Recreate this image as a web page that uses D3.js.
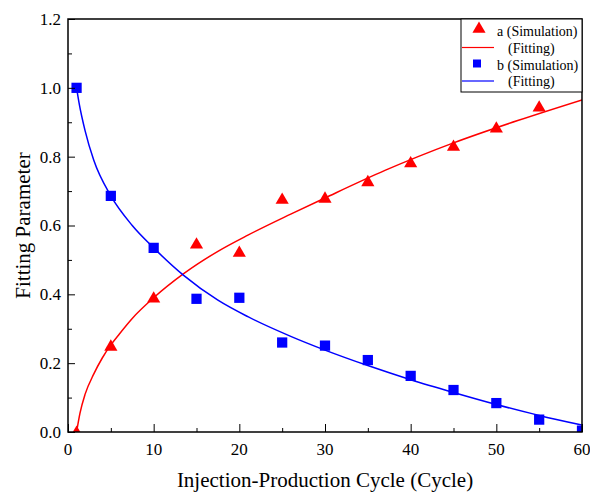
<!DOCTYPE html>
<html>
<head>
<meta charset="utf-8">
<script src="https://cdn.jsdelivr.net/npm/d3@7"></script>
<style>
  body { margin: 0; background: #fff; }
  svg text { font-family: "Liberation Serif", "Times New Roman", serif; fill: #000; }
</style>
</head>
<body>
<div id="chart"></div>
<script>
// simulation points
const cycles = [1, 5, 10, 15, 20, 25, 30, 35, 40, 45, 50, 55];
const aSim = [0.0, 0.25, 0.39, 0.547, 0.523, 0.677, 0.68, 0.728, 0.783, 0.831, 0.884, 0.945];
const bCycles = [1, 5, 10, 15, 20, 25, 30, 35, 40, 45, 50, 55, 60];
const bSim = [1.0, 0.686, 0.535, 0.387, 0.39, 0.26, 0.251, 0.209, 0.163, 0.122, 0.084, 0.036, 0.004];

// fitted curves
const aFitX = [1, 1.4, 2, 3, 4, 5, 6, 7.5, 10, 13.5, 17.5, 21, 26, 30, 37, 45, 52.5, 60];
const aFitY = [0, 0.055, 0.11, 0.168, 0.215, 0.253, 0.285, 0.33, 0.39, 0.46, 0.525, 0.572, 0.633, 0.68, 0.76, 0.84, 0.905, 0.965];
const bFitX = [1, 1.3, 2, 3, 5, 7.5, 10, 13.5, 17.5, 21, 26, 30, 35, 40, 45, 50, 55, 60];
const bFitY = [1.0, 0.955, 0.875, 0.79, 0.686, 0.6, 0.535, 0.455, 0.383, 0.335, 0.278, 0.238, 0.193, 0.152, 0.115, 0.08, 0.048, 0.02];

const xTicks = [0, 10, 20, 30, 40, 50, 60];
const yTicks = [0, 0.2, 0.4, 0.6, 0.8, 1.0, 1.2];

const margin = { top: 19, right: 8, bottom: 61, left: 68 };
const width = 590 - margin.left - margin.right;
const height = 493 - margin.top - margin.bottom;

const svg = d3.select("#chart")
  .append("svg")
  .attr("width", 590)
  .attr("height", 493)
  .append("g")
  .attr("transform", `translate(${margin.left},${margin.top})`);

const x = d3.scaleLinear().domain([0, 60]).range([0, width]);
const y = d3.scaleLinear().domain([0, 1.2]).range([height, 0]);

svg.append("defs").append("clipPath").attr("id", "clip")
  .append("rect").attr("width", width).attr("height", height);

const plot = svg.append("g").attr("clip-path", "url(#clip)");

const line = d3.line()
  .x(d => x(d[0]))
  .y(d => y(d[1]))
  .curve(d3.curveMonotoneX);

plot.append("path")
  .datum(aFitX.map((v, i) => [v, aFitY[i]]))
  .attr("fill", "none")
  .attr("stroke", "#ff0000")
  .attr("stroke-width", 1.5)
  .attr("d", line);

plot.append("path")
  .datum(bFitX.map((v, i) => [v, bFitY[i]]))
  .attr("fill", "none")
  .attr("stroke", "#0000ff")
  .attr("stroke-width", 1.5)
  .attr("d", line);

const tri = d3.symbol().type(d3.symbolTriangle).size(75);
const sq = d3.symbol().type(d3.symbolSquare).size(105);

plot.selectAll(".tri")
  .data(cycles.map((c, i) => [c, aSim[i]]))
  .enter()
  .append("path")
  .attr("class", "tri")
  .attr("d", tri)
  .attr("transform", d => `translate(${x(d[0])},${y(d[1]) + 1})`)
  .attr("fill", "#ff0000");

plot.selectAll(".sq")
  .data(bCycles.map((c, i) => [c, bSim[i]]))
  .enter()
  .append("path")
  .attr("class", "sq")
  .attr("d", sq)
  .attr("transform", d => `translate(${x(d[0])},${y(d[1])})`)
  .attr("fill", "#0000ff");

// axes, ticks pointing inward
const xAxis = svg.append("g")
  .attr("transform", `translate(0,${height})`)
  .call(d3.axisTop(x).tickValues(d3.range(0, 61, 5)).tickSize(4).tickFormat(""));
xAxis.selectAll(".tick line").filter(d => d % 10 === 0).attr("y2", -8);
xAxis.select(".domain").remove();

svg.append("g")
  .attr("transform", `translate(0,${height})`)
  .selectAll("text")
  .data(xTicks)
  .enter()
  .append("text")
  .attr("x", d => x(d))
  .attr("y", 23)
  .attr("text-anchor", "middle")
  .style("font-size", "17px")
  .text(d => d);

const yAxis = svg.append("g")
  .call(d3.axisRight(y).tickValues(d3.range(0, 13).map(i => i / 10)).tickSize(4).tickFormat(""));
yAxis.selectAll(".tick line").filter((d, i) => i % 2 === 0).attr("x2", 7);
yAxis.select(".domain").remove();

svg.append("g")
  .selectAll("text")
  .data(yTicks)
  .enter()
  .append("text")
  .attr("x", -7)
  .attr("y", d => y(d))
  .attr("dy", "0.35em")
  .attr("text-anchor", "end")
  .style("font-size", "17px")
  .text(d => d.toFixed(1));

svg.append("rect")
  .attr("width", width)
  .attr("height", height)
  .attr("fill", "none")
  .attr("stroke", "#000")
  .attr("stroke-width", 1.5);

svg.append("text")
  .attr("x", width / 2)
  .attr("y", height + 55)
  .attr("text-anchor", "middle")
  .style("font-size", "21px")
  .text("Injection-Production Cycle (Cycle)");

svg.append("text")
  .attr("transform", `translate(-38,${height / 2}) rotate(-90)`)
  .attr("text-anchor", "middle")
  .style("font-size", "21px")
  .text("Fitting Parameter");

// legend
const lg = svg.append("g").attr("transform", `translate(${width - 121},0)`);
lg.append("rect")
  .attr("width", 121)
  .attr("height", 73)
  .attr("fill", "#fff")
  .attr("stroke", "#000")
  .attr("stroke-width", 1);

lg.append("path").attr("d", tri).attr("transform", "translate(18,10)").attr("fill", "#ff0000");
lg.append("line").attr("x1", 1).attr("x2", 33).attr("y1", 28.5).attr("y2", 28.5)
  .attr("stroke", "#ff0000").attr("stroke-width", 1.2);
lg.append("path").attr("d", d3.symbol().type(d3.symbolSquare).size(64))
  .attr("transform", "translate(16,44.5)").attr("fill", "#0000ff");
lg.append("line").attr("x1", 1).attr("x2", 33).attr("y1", 62).attr("y2", 62)
  .attr("stroke", "#0000ff").attr("stroke-width", 1.2);

const legendText = [["a (Simulation)", 36, 12.5], ["(Fitting)", 47, 29], ["b (Simulation)", 36, 46], ["(Fitting)", 47, 62.5]];
lg.selectAll(".lt")
  .data(legendText)
  .enter()
  .append("text")
  .attr("x", d => d[1])
  .attr("y", d => d[2])
  .attr("dy", "0.35em")
  .style("font-size", "14px")
  .text(d => d[0]);
</script>
</body>
</html>
